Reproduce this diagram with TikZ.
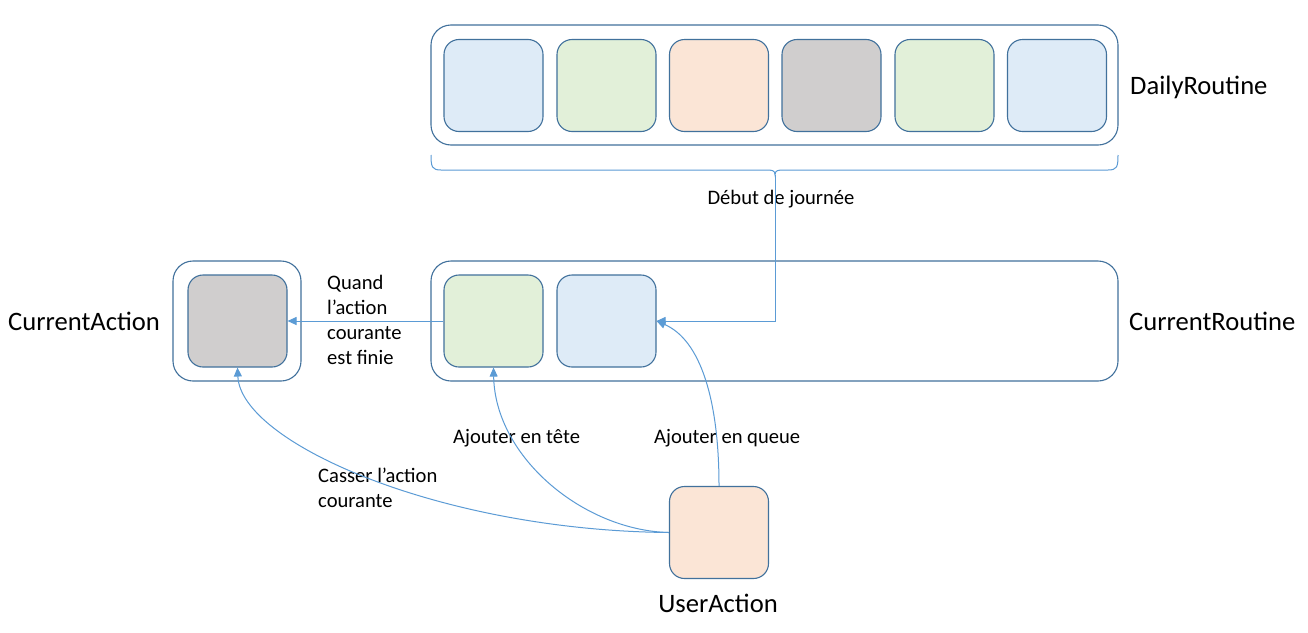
\documentclass[tikz,border=0pt]{standalone}
\usepackage{fontspec}
\setmainfont{Carlito}
\usetikzlibrary{arrows.meta}
\definecolor{boxstroke}{HTML}{41719C}
\definecolor{conncol}{HTML}{5B9BD5}
\definecolor{fblue}{HTML}{DEEBF7}
\definecolor{fgreen}{HTML}{E2F0D9}
\definecolor{fpeach}{HTML}{FBE5D6}
\definecolor{fgray}{HTML}{D0CECE}
\tikzset{
  outerbox/.style={draw=boxstroke, line width=1.1pt, rounded corners=20pt, minimum height=120pt, inner sep=0pt},
  innerbox/.style={draw=boxstroke, line width=1.1pt, rounded corners=15pt, minimum width=99pt, minimum height=92pt, inner sep=0pt},
  conn/.style={draw=conncol, line width=1pt, -{Triangle[length=9pt,width=8pt]}},
  plainline/.style={draw=conncol, line width=1pt},
  bigtxt/.style={font=\fontsize{26.6}{31}\selectfont, inner sep=0pt, text height=18pt, text depth=0pt},
  smalltxt/.style={font=\fontsize{20.6}{25}\selectfont, inner sep=0pt, align=left},
}
\begin{document}
\begin{tikzpicture}[x=1pt,y=-1pt]
\useasboundingbox[fill=white] (0,0) rectangle (1308,632);
% outer boxes
\node[outerbox, minimum width=687pt] (daily) at (774.5,85) {};
\node[outerbox, minimum width=687pt] (croutine) at (774.5,321) {};
\node[outerbox, minimum width=128pt] (caction) at (237,321) {};
% daily routine items
\node[innerbox, fill=fblue] (d1) at (493.5,85.5) {};
\node[innerbox, fill=fgreen] (d2) at (606.5,85.5) {};
\node[innerbox, fill=fpeach] (d3) at (719,85.5) {};
\node[innerbox, fill=fgray] (d4) at (831.5,85.5) {};
\node[innerbox, fill=fgreen] (d5) at (944.5,85.5) {};
\node[innerbox, fill=fblue] (d6) at (1057,85.5) {};
% current routine items
\node[innerbox, fill=fgreen] (green) at (493.5,321) {};
\node[innerbox, fill=fblue] (blue) at (606.5,321) {};
% current action
\node[innerbox, fill=fgray] (gray) at (237.5,321) {};
% user action
\node[innerbox, fill=fpeach] (user) at (719,532.5) {};
% labels
\node[bigtxt, anchor=west] (ldaily) at (1130,85) {DailyRoutine};
\node[bigtxt, anchor=west] (lcroutine) at (1129,321) {CurrentRoutine};
\node[bigtxt, anchor=west] (lcaction) at (8,321) {CurrentAction};
\node[bigtxt] (luser) at (718,603) {UserAction};
\node[smalltxt] (ldebut) at (781,199) {Début de journée};
\node[smalltxt, anchor=west] (lquand) at (327,320) {Quand\\l’action\\courante\\est finie};
\node[smalltxt, anchor=west] (lcasser) at (318,488) {Casser l’action\\courante};
\node[smalltxt, anchor=west] (ltete) at (453,438) {Ajouter en tête};
\node[smalltxt, anchor=west] (lqueue) at (654,438) {Ajouter en queue};
% brace
\coordinate (bracetip) at (775,175);
\draw[plainline] (431,155) .. controls (431,167) and (432,170) .. (441,170)
  -- (765,170) .. controls (772,170) and (775,170) .. (bracetip)
  .. controls (775,170) and (778,170) .. (785,170)
  -- (1108,170) .. controls (1117,170) and (1118,167) .. (1118,155);
% connectors
\draw[conn] (bracetip) |- (blue.east);
\draw[conn] (green.west) -- (gray.east);
\draw[conn] (user.west) .. controls +(-229,-2) and +(3,75) .. (gray.south);
\draw[conn] (user.west) .. controls +(-85,-2) and +(1.5,90) .. (green.south);
\draw[conn] (user.north) .. controls +(0,-86) and +(44,19) .. (blue.east);
\end{tikzpicture}
\end{document}
